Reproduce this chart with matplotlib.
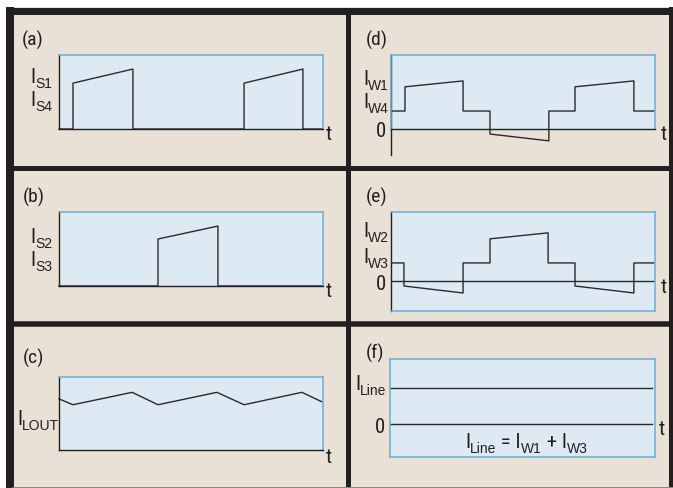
import matplotlib
matplotlib.use("Agg")
import matplotlib.pyplot as plt
from matplotlib import font_manager as fm
from matplotlib.patches import Rectangle


def pick_font(names):
    for n in names:
        try:
            fm.findfont(fm.FontProperties(family=n), fallback_to_default=False)
            return n
        except Exception:
            pass
    return "DejaVu Sans"


FONT = pick_font(["Liberation Sans Narrow", "Roboto Condensed", "Arial Narrow", "Liberation Sans"])
SUBFONT = pick_font(["Liberation Sans", "Arial", "DejaVu Sans"])
plt.rcParams["font.family"] = [FONT, "DejaVu Sans"]

# ---------------- data (time in % of window, current in arbitrary units) ----------------
t_a = [0, 5.3, 5.3, 28.0, 28.0, 70.1, 70.1, 92.4, 92.4, 100]
i_a = [0, 0, 0.62, 0.81, 0, 0, 0.62, 0.81, 0, 0]

t_b = [0, 37.5, 37.5, 60.2, 60.2, 100]
i_b = [0, 0, 0.635, 0.81, 0, 0]

t_c = [0, 5.3, 27.7, 37.5, 59.8, 70.1, 92.0, 99.6]
i_c = [0.70, 0.62, 0.79, 0.62, 0.79, 0.62, 0.79, 0.66]

t_d = [0, 5.3, 5.3, 27.3, 27.3, 37.5, 37.5, 59.8, 59.8, 69.7, 69.7, 92.0, 92.0, 99.6]
i_d = [0.243, 0.243, 0.57, 0.65, 0.243, 0.243, -0.068, -0.16, 0.243, 0.243, 0.57, 0.65, 0.243, 0.243]

t_e = [0, 4.9, 4.9, 27.3, 27.3, 37.5, 37.5, 59.5, 59.5, 69.7, 69.7, 92.0, 92.0, 99.6]
i_e = [0.243, 0.243, -0.068, -0.162, 0.243, 0.243, 0.568, 0.649, 0.243, 0.243, -0.068, -0.162, 0.243, 0.243]

t_f = [0, 98.9]
i_line = [0.486, 0.486]
zero_f = [0, 0]
t_zero_e = [0, 99.6]
zero_e = [0, 0]

panel_names = ["(a)", "(b)", "(c)", "(d)", "(e)", "(f)"]
labels_a = [("S1", 0.62), ("S4", 0.31)]
labels_b = [("S2", 0.58), ("S3", 0.27)]
labels_c = [("LOUT", 0.34)]
labels_d = [("W1", 0.595), ("W4", 0.28)]
labels_e = [("W2", 0.595), ("W3", 0.243)]
labels_f = [("Line", 0.46)]
equation_f = [("I", False), ("Line", True), (" = I", False), ("W1", True), (" + I", False), ("W3", True)]

# ---------------- style ----------------
W, H = 673, 488
BEIGE = "#E9E1D6"
BLUE_FILL = "#DDEAF4"
BLUE_EDGE = "#6AAED8"
DARK = "#231F20"
LINE = "#2A2A2A"
MAIN = 15
SUB = 10
DROP = 4.0

fig = plt.figure(figsize=(W / 100, H / 100), dpi=100, facecolor="white")

bg = fig.add_axes([0, 0, 1, 1], zorder=0)
bg.set_xlim(0, W)
bg.set_ylim(H, 0)
bg.axis("off")
bg.add_patch(Rectangle((7, 7), W, H, facecolor=BEIGE, edgecolor="none"))
px = 0.72
bg.plot([6, W], [10.5, 10.5], color=DARK, lw=7 * px, solid_capstyle="butt")
bg.plot([10, 10], [7, H], color=DARK, lw=8 * px, solid_capstyle="butt")
bg.plot([671, 671], [7, H], color=DARK, lw=4 * px, solid_capstyle="butt")
bg.plot([347.5, 347.5], [12, H], color=DARK, lw=5 * px, solid_capstyle="butt")
bg.plot([12, W], [167.5, 167.5], color=DARK, lw=5 * px, solid_capstyle="butt")
bg.plot([12, W], [323.5, 323.5], color=DARK, lw=5.5 * px, solid_capstyle="butt")
bg.plot([12, W], [486.5, 486.5], color="#8A8580", lw=1 * px, solid_capstyle="butt")

title_pos = [(22, 46), (23, 203), (23, 364), (366, 46), (366, 203), (366, 359)]
for name, (x, y) in zip(panel_names, title_pos):
    bg.text(x, y, name, fontsize=14, va="baseline", ha="left", color=DARK)


def make_ax(x0, y0, x1, y1, ylim, left="dark", bottom="dark"):
    ax = fig.add_axes([x0 / W, 1 - y1 / H, (x1 - x0) / W, (y1 - y0) / H], zorder=2)
    ax.set_xlim(0, 100)
    ax.set_ylim(*ylim)
    ax.set_facecolor(BLUE_FILL)
    ax.set_xticks([])
    ax.set_yticks([])
    for s in ["top", "right", "left", "bottom"]:
        ax.spines[s].set_color(BLUE_EDGE)
        ax.spines[s].set_linewidth(1.1)
    if left == "dark":
        ax.spines["left"].set_color(DARK)
        ax.spines["left"].set_linewidth(1.0)
    if bottom == "dark":
        ax.spines["bottom"].set_color(DARK)
        ax.spines["bottom"].set_linewidth(1.0)
    return ax


def compose(ax, xy, xycoords, offset, parts):
    first = prev = None
    for txt, sub in parts:
        fam = [SUBFONT, "DejaVu Sans"] if sub else [FONT, "DejaVu Sans"]
        if first is None:
            a = ax.annotate(txt, xy=xy, xycoords=xycoords, xytext=offset,
                            textcoords="offset pixels", va="baseline", ha="left",
                            fontsize=SUB if sub else MAIN, family=fam, color=DARK,
                            annotation_clip=False)
            first = a
        else:
            a = ax.annotate(txt, xy=(1, 0), xycoords=(prev, first),
                            xytext=(0, -DROP if sub else 0), textcoords="offset pixels",
                            va="bottom", ha="left", fontsize=SUB if sub else MAIN,
                            family=fam, color=DARK, annotation_clip=False)
        prev = a
    return first


def ylabel(ax, sub, y, dx):
    compose(ax, (0, y), ("axes fraction", "data"), (-dx, 0), [("I", False), (sub, True)])


def tlabel(ax, y, dx=4):
    ax.annotate("t", xy=(1, y), xycoords=("axes fraction", "data"), xytext=(dx, 0),
                textcoords="offset pixels", va="baseline", ha="left", fontsize=MAIN,
                color=DARK, annotation_clip=False)


def zlabel(ax, y, dx=5):
    ax.annotate("0", xy=(0, y), xycoords=("axes fraction", "data"), xytext=(-dx, 0),
                textcoords="offset pixels", va="baseline", ha="right", fontsize=MAIN,
                color=DARK, annotation_clip=False)


# (a)
ax = make_ax(59, 55, 323, 129, (0, 1))
ax.plot(t_a, i_a, color=LINE, lw=1.0, clip_on=False)
for s, y in labels_a:
    ylabel(ax, s, y, 29)
tlabel(ax, -0.15, 3)

# (b)
ax = make_ax(59, 212, 323, 286, (0, 1))
ax.plot(t_b, i_b, color=LINE, lw=1.0, clip_on=False)
for s, y in labels_b:
    ylabel(ax, s, y, 29)
tlabel(ax, -0.15, 3)

# (c)
ax = make_ax(59, 377, 323, 450, (0, 1))
ax.plot(t_c, i_c, color=LINE, lw=1.0, clip_on=False)
for s, y in labels_c:
    ylabel(ax, s, y, 42)
tlabel(ax, -0.18, 3)

# (d)
ax = make_ax(391, 55, 655, 129, (0, 1), left="none", bottom="dark")
ax.plot(t_d, i_d, color=LINE, lw=1.0, clip_on=False)
ax.plot([0, 0], [-0.35, 1], color=DARK, lw=1.0, clip_on=False)
for s, y in labels_d:
    ylabel(ax, s, y, 28)
zlabel(ax, -0.108)
tlabel(ax, -0.15, 6)

# (e)
ax = make_ax(391, 212, 655, 311, (-0.405, 0.93), left="dark", bottom="blue")
ax.plot(t_zero_e, zero_e, color=LINE, lw=1.0)
ax.plot(t_e, i_e, color=LINE, lw=1.0)
for s, y in labels_e:
    ylabel(ax, s, y, 28)
zlabel(ax, -0.12)
tlabel(ax, -0.16, 6)

# (f)
ax = make_ax(390, 359, 655, 457, (-0.446, 0.88), left="blue", bottom="blue")
ax.plot(t_f, i_line, color=LINE, lw=1.0)
ax.plot(t_f, zero_f, color=LINE, lw=1.0)
for s, y in labels_f:
    ylabel(ax, s, y, 35)
zlabel(ax, -0.12)
tlabel(ax, -0.15, 4)
compose(ax, (0.283, -0.324), ("axes fraction", "data"), (0, 0), equation_f)

fig.savefig("out.png", dpi=100, facecolor="white")
